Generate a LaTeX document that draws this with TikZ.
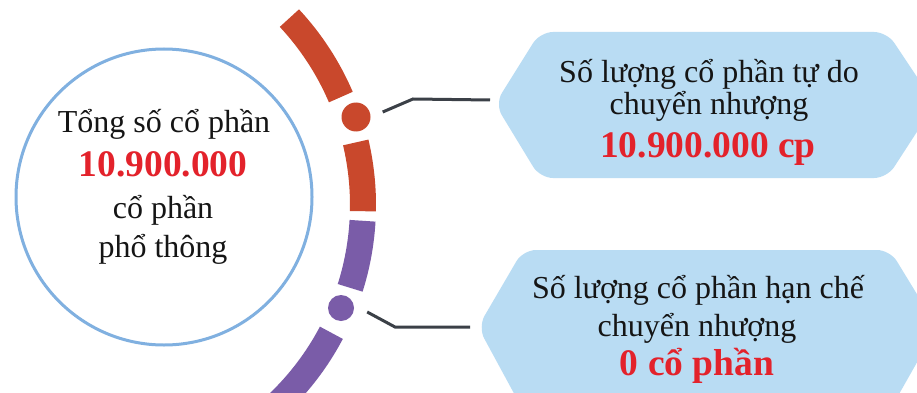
\documentclass[tikz,border=0pt]{standalone}
\usepackage{fontspec}
\setmainfont{Liberation Serif}
\definecolor{ringblue}{HTML}{80B0E0}
\definecolor{boxblue}{HTML}{B9DCF3}
\definecolor{arcred}{HTML}{C9482C}
\definecolor{arcpurple}{HTML}{7A5CA8}
\definecolor{connc}{HTML}{3B4047}
\definecolor{numred}{HTML}{E3222B}
\definecolor{txt}{HTML}{151515}
\begin{document}
\begin{tikzpicture}[x=1pt,y=-1pt,
  txtline/.style={anchor=base,inner sep=0pt,text=txt,font=\fontsize{32}{38}\selectfont},
  numline/.style={anchor=base,inner sep=0pt,text=numred,font=\fontsize{37.5}{44}\selectfont\bfseries},
  redarc/.style={draw=arcred,line width=26pt},
  purparc/.style={draw=arcpurple,line width=26pt},
  dotnode/.style={circle,inner sep=0pt,minimum size=#1},
  conn/.style={draw=connc,line width=3pt},
  shapebox/.style={fill=boxblue,rounded corners=13pt}]
\useasboundingbox (0,0) rectangle (917,393);
\clip (0,0) rectangle (917,393);
\fill[white] (0,0) rectangle (917,393);

% big circle
\node[circle,draw=ringblue,line width=3pt,minimum size=296pt,inner sep=0pt] (big) at (164,197) {};
\node[txtline] (c1) at (164,132) {Tổng số cổ phần};
\node[numline] (c2) at (163,176) {10.900.000};
\node[txtline] (c3) at (163,218) {cổ phần};
\node[txtline] (c4) at (163,257) {phổ thông};

% outer arc
\coordinate (ctr) at (89,205);
\draw[redarc] ([shift={(43:274pt)}]ctr) arc[start angle=43, end angle=23.2, radius=274pt];
\draw[redarc] ([shift={(13.2:274pt)}]ctr) arc[start angle=13.2, end angle=-1.3, radius=274pt];
\draw[purparc] ([shift={(-3.3:274pt)}]ctr) arc[start angle=-3.3, end angle=-17.6, radius=274pt];
\draw[purparc] ([shift={(-27.8:274pt)}]ctr) arc[start angle=-27.8, end angle=-55, radius=274pt];
\node[dotnode=29pt,fill=arcred] (dot1) at (356,117) {};
\node[dotnode=26pt,fill=arcpurple] (dot2) at (341,308) {};

% boxes
\coordinate (b1w) at (495,104);
\fill[shapebox] (b1w) -- (540,32) -- (887,32) -- (935,104) -- (887,178) -- (540,178) -- cycle;
\coordinate (b2w) at (478,327);
\fill[shapebox] (b2w) -- (523,250) -- (890,250) -- (937,327) -- (890,410) -- (523,410) -- cycle;

\node[txtline] (t1) at (709,83) {Số lượng cổ phần tự do};
\node[txtline] (t2) at (709,114) {chuyển nhượng};
\node[numline] (t3) at (708,157) {10.900.000 cp};
\node[txtline] (u1) at (698,298) {Số lượng cổ phần hạn chế};
\node[txtline] (u2) at (697,336) {chuyển nhượng};
\node[numline] (u3) at (697,375) {0 cổ phần};

% connectors
\coordinate (k1) at (413,99);
\coordinate (k2) at (395,327);
\draw[conn] ([xshift=12pt,yshift=5pt]dot1.east) -- (k1) -- ([xshift=-5pt,yshift=4pt]b1w);
\draw[conn] ([xshift=13pt,yshift=-4pt]dot2.east) -- (k2) -- ([xshift=-8pt]b2w);
\end{tikzpicture}
\end{document}
